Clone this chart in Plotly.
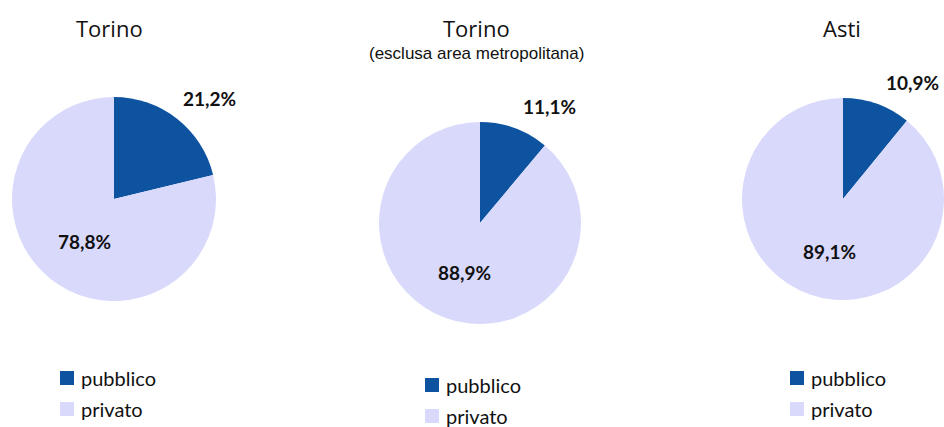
import plotly.graph_objects as go

OFF = 0
W, H = 944, 427

# ---- data ----
categories = ["pubblico", "privato"]
titles = ["Torino", "Torino", "Asti"]
subtitles = ["", "(esclusa area metropolitana)", ""]
pubblico = [21.2, 11.1, 10.9]
privato = [78.8, 88.9, 89.1]

colors = ["#0E53A0", "#D9D9FC"]

# ---- layout (page-pixel geometry) ----
pie_boxes = [(12, 216, 97, 301), (379, 581, 122, 324), (742, 946, 97, 301)]
title_pos = [(109, 28), (476, 28), (842, 28)]
sub_pos = [None, (476, 53), None]
out_lbl = [(238, 98, "right"), (578, 106, "right"), (941, 82, "right")]
in_lbl = [(84, 242), (464, 272), (829, 251)]
legend_pos = [(60, 378), (425, 385), (790, 378)]
LEG_GAP = 31

def px(x):
    return (x - OFF) / W

def py(y):
    return 1 - (y - OFF) / H

fig = go.Figure()
ann = []
shapes = []

def fmt(v):
    return f"{v:.1f}".replace(".", ",") + "%"

for i in range(3):
    x0, x1, y0, y1 = pie_boxes[i]
    fig.add_trace(go.Pie(
        labels=categories,
        values=[pubblico[i], privato[i]],
        sort=False,
        direction="clockwise",
        rotation=0,
        marker=dict(colors=colors, line=dict(width=0)),
        textinfo="none",
        hoverinfo="label+percent",
        showlegend=False,
        domain=dict(x=[px(x0), min(1, px(x1))], y=[py(y1), py(y0)]),
    ))
    tx, ty = title_pos[i]
    ann.append(dict(x=px(tx), y=py(ty), xref="paper", yref="paper", text=titles[i],
                    showarrow=False, xanchor="center", yanchor="middle",
                    font=dict(family="Open Sans", size=22, color="#111111")))
    if subtitles[i]:
        sx, sy = sub_pos[i]
        ann.append(dict(x=px(sx), y=py(sy), xref="paper", yref="paper", text=subtitles[i],
                        showarrow=False, xanchor="center", yanchor="middle",
                        font=dict(family="Liberation Sans", size=17, color="#111111")))
    ox, oy, oa = out_lbl[i]
    ann.append(dict(x=px(ox), y=py(oy), xref="paper", yref="paper", text="<b>" + fmt(pubblico[i]) + "</b>",
                    showarrow=False, xanchor=oa, yanchor="middle",
                    font=dict(family="Lato", size=19, color="#111111")))
    ix, iy = in_lbl[i]
    ann.append(dict(x=px(ix), y=py(iy), xref="paper", yref="paper", text="<b>" + fmt(privato[i]) + "</b>",
                    showarrow=False, xanchor="center", yanchor="middle",
                    font=dict(family="Lato", size=19, color="#111111")))
    lx, ly = legend_pos[i]
    for k, cat in enumerate(categories):
        cy = ly + k * LEG_GAP
        shapes.append(dict(type="rect", xref="paper", yref="paper",
                           x0=px(lx), x1=px(lx + 14), y0=py(cy + 7), y1=py(cy - 7),
                           fillcolor=colors[k], line=dict(width=0)))
        ann.append(dict(x=px(lx + 19), y=py(cy), xref="paper", yref="paper", text=cat,
                        showarrow=False, xanchor="left", yanchor="middle",
                        font=dict(family="Lato", size=20, color="#111111")))

fig.update_layout(
    width=W, height=H,
    margin=dict(l=0, r=0, t=0, b=0),
    paper_bgcolor="white", plot_bgcolor="white",
    annotations=ann, shapes=shapes,
)

fig.write_html(
    "out.html",
    config={"displayModeBar": False},
    post_script=("document.body.style.margin='0';document.body.style.padding='0';"
                 "document.documentElement.style.overflow='hidden';document.body.style.overflow='hidden';"),
)
